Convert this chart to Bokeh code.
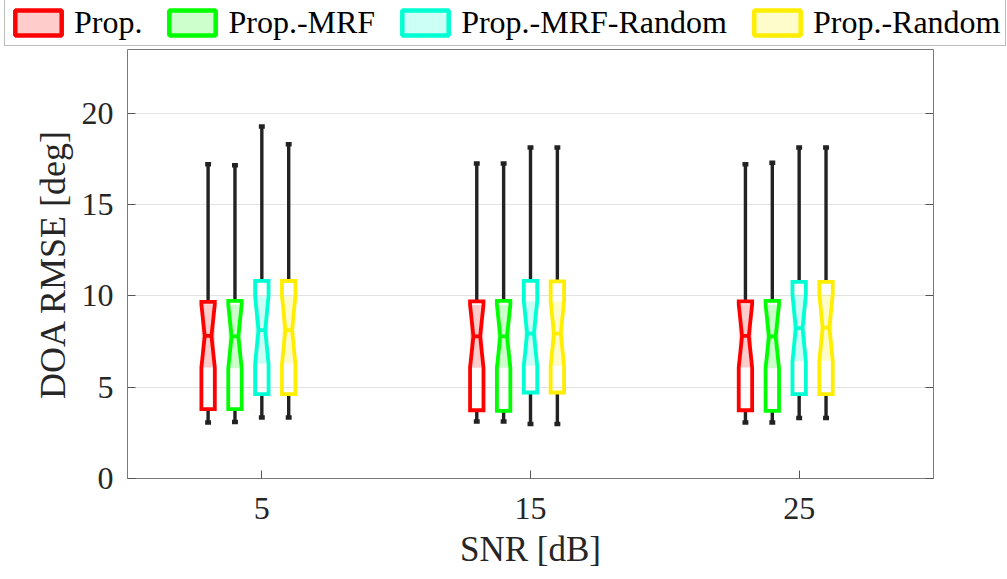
from bokeh.plotting import figure
from bokeh.layouts import column
from bokeh.models import Range1d, LinearAxis, FixedTicker, Legend, LegendItem, ColumnDataSource
from bokeh.embed import file_html
from bokeh.resources import INLINE

# SNR groups and methods
snr = [5, 15, 25]
methods = ["Prop.", "Prop.-MRF", "Prop.-MRF-Random", "Prop.-Random"]
colors = ["#FF0000", "#00FF00", "#00FFD2", "#FFEE00"]
offsets = [-2, -1, 0, 1]

# box statistics per method (rows) and SNR (columns), DOA RMSE in degrees
whisker_lo = [
    [3.07, 3.12, 3.07],
    [3.10, 3.12, 3.07],
    [3.34, 2.98, 3.31],
    [3.34, 2.98, 3.31],
]
q1 = [
    [3.80, 3.74, 3.74],
    [3.80, 3.70, 3.70],
    [4.62, 4.71, 4.62],
    [4.62, 4.71, 4.62],
]
median = [
    [7.81, 7.79, 7.81],
    [7.78, 7.79, 7.78],
    [8.13, 7.94, 8.24],
    [8.13, 7.94, 8.26],
]
q3 = [
    [9.68, 9.70, 9.70],
    [9.73, 9.73, 9.73],
    [10.83, 10.83, 10.77],
    [10.82, 10.80, 10.77],
]
whisker_hi = [
    [17.22, 17.25, 17.22],
    [17.16, 17.25, 17.29],
    [19.28, 18.13, 18.13],
    [18.31, 18.13, 18.13],
]
notch = [
    [1.73, 1.72, 1.73],
    [1.74, 1.72, 1.74],
    [1.85, 1.77, 1.82],
    [1.85, 1.77, 1.82],
]

BOX_W = 0.5
FONT = "Liberation Serif"
TXT = "#262626"
LEGEND_H = 48

p = figure(width=1007, height=579 - LEGEND_H,
           x_range=Range1d(0, 30), y_range=Range1d(0, 23.5),
           output_backend="svg", toolbar_location=None,
           min_border_left=127, min_border_right=74,
           min_border_top=1, min_border_bottom=101)
p.background_fill_color = "white"
p.border_fill_color = "white"
p.outline_line_color = "#7a7a7a"
p.outline_line_width = 1

# separate strip above the axes that holds the legend
lg = figure(width=1007, height=LEGEND_H, x_range=Range1d(0, 1), y_range=Range1d(0, 1),
            output_backend="svg", toolbar_location=None, min_border=0)
if "frame_align" in lg.properties():
    lg.frame_align = False
lg.axis.visible = False
lg.grid.visible = False
lg.outline_line_color = None
lg.background_fill_color = "white"
lg.border_fill_color = "white"

legend_items = []
for m, name in enumerate(methods):
    c = colors[m]
    shade_l, shade_r, shade_b, shade_t = [], [], [], []
    outline_xs, outline_ys = [], []
    med_x0, med_x1, med_y = [], [], []
    wx, wy0, wy1 = [], [], []
    cap_x0, cap_x1, cap_y = [], [], []
    for i, s in enumerate(snr):
        x = s + offsets[m]
        L, R = x - BOX_W / 2, x + BOX_W / 2
        nl, nr = x - BOX_W / 4, x + BOX_W / 4
        md = median[m][i]
        lo_n, hi_n = md - notch[m][i], md + notch[m][i]
        shade_l.append(L); shade_r.append(R)
        shade_b.append(lo_n); shade_t.append(hi_n)
        outline_xs.append([L, L, nl, L, L, R, R, nr, R, R])
        outline_ys.append([q1[m][i], lo_n, md, hi_n, q3[m][i],
                           q3[m][i], hi_n, md, lo_n, q1[m][i]])
        med_x0.append(nl); med_x1.append(nr); med_y.append(md)
        # whiskers: upper and lower
        wx += [x, x]
        wy0 += [q3[m][i], whisker_lo[m][i]]
        wy1 += [whisker_hi[m][i], q1[m][i]]
        cap_x0 += [x - 0.11, x - 0.11]
        cap_x1 += [x + 0.11, x + 0.11]
        cap_y += [whisker_hi[m][i], whisker_lo[m][i]]

    p.segment(x0=wx, y0=wy0, x1=wx, y1=wy1, line_color="#222222", line_width=3.4)
    p.segment(x0=cap_x0, y0=cap_y, x1=cap_x1, y1=cap_y, line_color="#222222",
              line_width=4.5)
    p.quad(left=shade_l, right=shade_r, bottom=shade_b, top=shade_t,
           fill_color=c, fill_alpha=0.2, line_color=None)
    p.patches(xs=outline_xs, ys=outline_ys, fill_color=None, line_color=c,
              line_width=3.8, line_join="miter")
    p.segment(x0=med_x0, y0=med_y, x1=med_x1, y1=med_y, line_color=c, line_width=3.8)

    # legend swatch renderer: one row kept outside the strip's visible range,
    # only its glyph style shows up in the legend
    swatch = lg.quad(source=ColumnDataSource(dict(l=[-3], r=[-2], b=[-3], t=[-2])),
                     left="l", right="r", bottom="b", top="t",
                     fill_color=c, fill_alpha=0.2, line_color=c, line_width=4.5)
    legend_items.append(LegendItem(label=name, renderers=[swatch]))

# axes
for ax in (p.xaxis[0], p.yaxis[0]):
    ax.axis_line_color = None
    ax.major_tick_in = 8
    ax.major_tick_out = 0
    ax.major_tick_line_color = "#555555"
    ax.minor_tick_line_color = None
    ax.major_label_text_font = FONT
    ax.major_label_text_font_size = "32px"
    ax.major_label_text_color = TXT
    ax.axis_label_text_font = FONT
    ax.axis_label_text_font_style = "normal"
    ax.axis_label_text_color = TXT

p.xaxis[0].ticker = FixedTicker(ticks=snr)
p.yaxis[0].ticker = FixedTicker(ticks=[0, 5, 10, 15, 20])
p.xaxis[0].axis_label = "SNR [dB]"
p.yaxis[0].axis_label = "DOA RMSE [deg]"
p.xaxis[0].axis_label_text_font_size = "35px"
p.yaxis[0].axis_label_text_font_size = "36px"
p.xaxis[0].major_label_standoff = 19
p.yaxis[0].major_label_standoff = 14
p.xaxis[0].axis_label_standoff = 8
p.yaxis[0].axis_label_standoff = 6

# mirrored ticks on the right
right_ax = LinearAxis(ticker=FixedTicker(ticks=[0, 5, 10, 15, 20]))
right_ax.axis_line_color = None
right_ax.major_tick_in = 8
right_ax.major_tick_out = 0
right_ax.major_tick_line_color = "#555555"
right_ax.minor_tick_line_color = None
right_ax.major_label_text_font_size = "0px"
right_ax.major_label_text_alpha = 0
p.add_layout(right_ax, "right")

p.xgrid.visible = False
p.ygrid.grid_line_color = "#e3e3e3"
p.ygrid.grid_line_width = 1

legend = Legend(items=legend_items, orientation="horizontal",
                location=(4, 2),
                glyph_width=58, glyph_height=31, label_standoff=7, spacing=21,
                padding=4, margin=0,
                border_line_color="#7a7a7a", border_line_width=1,
                background_fill_color="white", background_fill_alpha=1,
                label_text_font=FONT, label_text_font_size="32px",
                label_text_color="#000000")
lg.add_layout(legend)

open("out.html", "w").write(file_html(column(lg, p), INLINE))
